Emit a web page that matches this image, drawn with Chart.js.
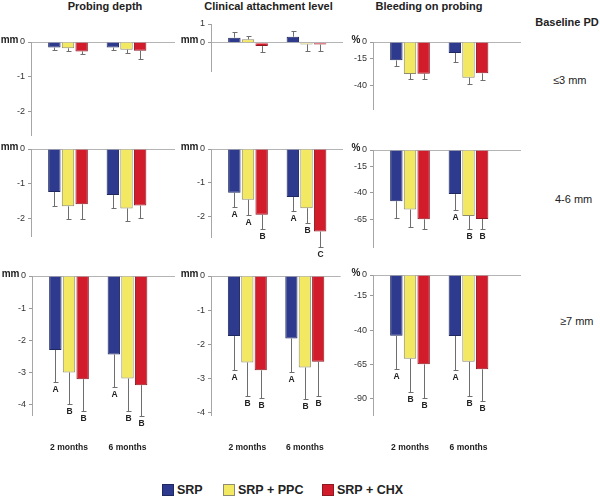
<!DOCTYPE html>
<html lang="en">
<head>
<meta charset="UTF-8">
<title>Changes by baseline PD</title>
<script src="https://cdn.jsdelivr.net/npm/chart.js"></script>
<style>
  body { margin: 0; background: #fff; font-family: Arial, "Liberation Sans", sans-serif; color: #222; }
  #stage { position: relative; width: 600px; height: 496px; overflow: hidden; }
  #stage canvas { position: absolute; }
  .txt { position: absolute; white-space: nowrap; line-height: 1; }
  .title { font-weight: bold; font-size: 11px; transform: translateX(-50%); }
  .rowlab { font-size: 11px; }
  .key { position: absolute; top: 484px; height: 12px; display: flex; align-items: center; font-weight: bold; font-size: 12.5px; white-space: nowrap; }
  .key i { display: inline-block; width: 10px; height: 10px; margin-right: 3px; border: 1px solid; }
</style>
</head>
<body>
<div id="stage"></div>

<script>
// ---- data ----
const periods = ['2 months', '6 months'];
const series = ['SRP', 'SRP + PPC', 'SRP + CHX'];
const measures = ['Probing depth', 'Clinical attachment level', 'Bleeding on probing'];
const baselineGroups = ['\u22643 mm', '4-6 mm', '\u22657 mm'];

// one row per series, [2 months, 6 months]
// baseline PD <=3 mm
const pdShallow = [[-0.16, -0.16], [-0.18, -0.22], [-0.27, -0.25]];
const pdShallowSd = [[0.08, 0.07], [0.09, 0.10], [0.08, 0.24]];
const calShallow = [[0.27, 0.32], [0.18, -0.09], [-0.18, -0.10]];
const calShallowSd = [[0.29, 0.31], [0.18, 0.34], [0.30, 0.33]];
const bopShallow = [[-17, -10.2], [-29.6, -33], [-29.3, -29]];
const bopShallowSd = [[5, 8.3], [5, 5.6], [5.3, 6.2]];
// baseline PD 4-6 mm
const pdMid = [[-1.23, -1.32], [-1.64, -1.70], [-1.58, -1.62]];
const pdMidSd = [[0.39, 0.38], [0.36, 0.36], [0.42, 0.36]];
const calMid = [[-1.29, -1.42], [-1.5, -1.75], [-1.94, -2.44]];
const calMidSd = [[0.43, 0.41], [0.45, 0.45], [0.43, 0.46]];
const calMidSig = [['A', 'A'], ['A', 'B'], ['B', 'C']];
const bopMid = [[-47.8, -41.2], [-55.6, -61.6], [-64.7, -64.4]];
const bopMidSd = [[15.6, 15.3], [16.3, 11.8], [9, 9.3]];
const bopMidSig = [['', 'A'], ['', 'B'], ['', 'B']];
// baseline PD >=7 mm
const pdDeep = [[-2.31, -2.45], [-3.01, -3.2], [-3.22, -3.41]];
const pdDeepSd = [[0.99, 1.01], [1.0, 1.0], [0.98, 0.97]];
const calDeep = [[-1.76, -1.83], [-2.53, -2.68], [-2.76, -2.51]];
const calDeepSd = [[1.0, 0.97], [0.99, 0.92], [0.81, 1.01]];
const bopDeep = [[-44.1, -44.3], [-60.8, -63], [-64.9, -68.5]];
const bopDeepSd = [[24.2, 24.7], [24.5, 24.7], [24.3, 22.8]];
const deepSig = [['A', 'A'], ['B', 'B'], ['B', 'B']];

// tick labels
const mmTicksShort = [0, -1, -2];
const mmTicksLong = [0, -1, -2, -3, -4];
const calShallowTicks = [1, 0];
const pctTicksShallow = [0, -15, -40];
const pctTicksMid = [0, -15, -40, -65];
const pctTicksDeep = [0, -15, -40, -65, -90];

const fills = ['#2d3a8e', '#f3e862', '#d21b2b'];
const edges = ['#20295f', '#8e8c70', '#8d1a22'];

// ---- layout ----
const YW = 40, PADT = 14, PADR = 12, PADB = 30, XH = 40;
const GROUP_OFF = 37, GROUP_GAP = 58.5;
const FONT = 'Arial, "Liberation Sans", sans-serif';

const panels = [
  { means: pdShallow, sds: pdShallowSd, ticks: mmTicksShort, min: -2.67, max: 0, unit: 'mm', axis: 31, top: 42, bottom: 135, right: 175 },
  { means: calShallow, sds: calShallowSd, ticks: calShallowTicks, min: -1.51, max: 1, unit: 'mm', axis: 211, top: 24, bottom: 71, right: 343 },
  { means: bopShallow, sds: bopShallowSd, ticks: pctTicksShallow, min: -62, max: 0, unit: '%', axis: 373, top: 42, bottom: 109, right: 521 },
  { means: pdMid, sds: pdMidSd, ticks: mmTicksShort, min: -2.49, max: 0, unit: 'mm', axis: 31, top: 149, bottom: 236, right: 175 },
  { means: calMid, sds: calMidSd, sig: calMidSig, ticks: mmTicksShort, min: -2.6, max: 0, unit: 'mm', axis: 211, top: 149, bottom: 237, right: 343 },
  { means: bopMid, sds: bopMidSd, sig: bopMidSig, ticks: pctTicksMid, min: -90.6, max: 0, unit: '%', axis: 373, top: 150, bottom: 247, right: 521 },
  { means: pdDeep, sds: pdDeepSd, sig: deepSig, ticks: mmTicksLong, min: -4.34, max: 0, unit: 'mm', axis: 32, top: 276, bottom: 415, right: 175, months: true },
  { means: calDeep, sds: calDeepSd, sig: deepSig, ticks: mmTicksLong, min: -4.07, max: 0, unit: 'mm', axis: 211, top: 276, bottom: 415, right: 343, months: true },
  { means: bopDeep, sds: bopDeepSd, sig: deepSig, ticks: pctTicksDeep, min: -101.7, max: 0, unit: '%', axis: 373, top: 275, bottom: 415, right: 521, months: true }
];

// error bars, significance letters and the unit next to the zero tick
const errorBars = {
  id: 'errorBars',
  afterDatasetsDraw(chart, args, opts) {
    const ctx = chart.ctx;
    const yScale = chart.scales.y;
    ctx.save();
    ctx.strokeStyle = '#6e6e6e';
    ctx.lineWidth = 1;
    ctx.fillStyle = '#222';
    ctx.font = 'bold 8.5px ' + FONT;
    ctx.textAlign = 'center';
    ctx.textBaseline = 'middle';
    chart.data.datasets.forEach((ds, s) => {
      chart.getDatasetMeta(s).data.forEach((bar, i) => {
        const v = ds.data[i].y;
        const end = v >= 0 ? v + ds.sd[i] : v - ds.sd[i];
        const x = Math.round(bar.x) + 0.5;
        const y0 = yScale.getPixelForValue(v);
        const y1 = Math.round(yScale.getPixelForValue(end)) + 0.5;
        ctx.beginPath();
        ctx.moveTo(x, y0);
        ctx.lineTo(x, y1);
        ctx.moveTo(x - 2, y1);
        ctx.lineTo(x + 3, y1);
        ctx.stroke();
        if (ds.sig && ds.sig[i]) ctx.fillText(ds.sig[i], x, y1 + 7);
      });
    });
    if (opts.unit) {
      ctx.font = 'bold 10px ' + FONT;
      ctx.textAlign = 'right';
      ctx.fillText(opts.unit, chart.chartArea.left - 12.5, yScale.getPixelForValue(0) - 2);
    }
    ctx.restore();
  }
};

const stage = document.getElementById('stage');

function addText(cls, text, left, top) {
  const d = document.createElement('div');
  d.className = 'txt ' + cls;
  d.textContent = text;
  d.style.left = left + 'px';
  d.style.top = top + 'px';
  stage.appendChild(d);
}

[105, 268.5, 429].forEach((cx, i) => addText('title', measures[i], cx, 1));
addText('title', 'Baseline PD', 567, 17);
addText('rowlab', baselineGroups[0], 553, 75);
addText('rowlab', baselineGroups[1], 555, 194);
addText('rowlab', baselineGroups[2], 560, 316);

[162, 223, 322].forEach((x, s) => {
  const k = document.createElement('div');
  k.className = 'key';
  k.style.left = x + 'px';
  k.innerHTML = '<i style="background:' + fills[s] + ';border-color:' + edges[s] + '"></i>' + series[s];
  stage.appendChild(k);
});

Chart.defaults.font.family = FONT;
Chart.defaults.color = '#333';

panels.forEach((p) => {
  const canvas = document.createElement('canvas');
  const padBottom = p.months ? 6 : PADB;
  canvas.width = YW + (p.right - p.axis) + PADR;
  canvas.height = (p.bottom - p.top) + PADT + padBottom + (p.months ? XH : 0);
  canvas.style.left = (p.axis - YW) + 'px';
  canvas.style.top = (p.top - PADT) + 'px';
  stage.appendChild(canvas);

  const xMin = -GROUP_OFF / GROUP_GAP;
  const xMax = xMin + (p.right - p.axis) / GROUP_GAP;

  new Chart(canvas, {
    type: 'bar',
    data: {
      datasets: series.map((name, s) => ({
        label: name,
        data: p.means[s].map((v, i) => ({ x: i, y: v })),
        sd: p.sds[s],
        sig: p.sig ? p.sig[s] : null,
        backgroundColor: fills[s],
        borderColor: edges[s],
        borderWidth: 1,
        categoryPercentage: 0.7,
        barPercentage: 0.91
      }))
    },
    options: {
      responsive: false,
      animation: false,
      layout: { padding: { top: PADT, right: PADR, bottom: padBottom, left: 0 } },
      plugins: {
        legend: { display: false },
        tooltip: { enabled: false },
        errorBars: { unit: p.unit }
      },
      scales: {
        x: {
          type: 'linear',
          offset: false,
          min: xMin,
          max: xMax,
          display: !!p.months,
          afterBuildTicks: (s) => { s.ticks = periods.map((_, i) => ({ value: i })); },
          afterFit: (s) => { s.height = p.months ? XH : 0; },
          grid: { display: false, drawTicks: false },
          border: { display: false },
          ticks: {
            callback: (v) => periods[v],
            padding: 28,
            autoSkip: false,
            maxRotation: 0,
            color: '#222',
            font: { size: 8.5, weight: 'bold' }
          }
        },
        y: {
          min: p.min,
          max: p.max,
          afterBuildTicks: (s) => { s.ticks = p.ticks.map((v) => ({ value: v })); },
          afterFit: (s) => { s.width = YW; },
          grid: {
            color: (c) => (c.tick && c.tick.value === 0 ? '#b4b4b4' : 'rgba(0,0,0,0)'),
            tickColor: '#9a9a9a',
            tickLength: 3
          },
          border: { color: '#a6a6a6' },
          ticks: { padding: 3, color: '#333', font: { size: 9 } }
        }
      }
    },
    plugins: [errorBars]
  });
});
</script>
</body>
</html>
